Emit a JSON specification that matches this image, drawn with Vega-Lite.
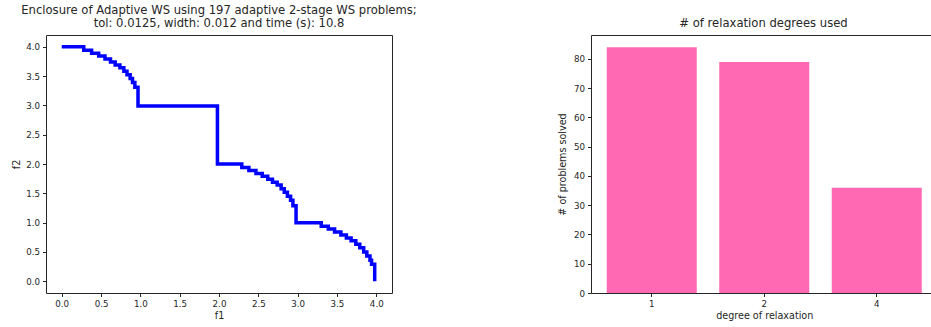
{
  "$schema": "https://vega.github.io/schema/vega-lite/v6.json",
  "padding": {"left": 11, "top": 4, "right": 0, "bottom": 0},
  "bounds": "flush",
  "spacing": 199,
  "config": {
    "font": "DejaVu Sans",
    "view": {"stroke": "#262626", "strokeWidth": 1},
    "axis": {
      "domain": false,
      "grid": false,
      "labelFont": "DejaVu Sans",
      "labelFontSize": 8.7,
      "labelColor": "#262626",
      "tickColor": "#262626",
      "tickSize": 3.5,
      "labelPadding": 3,
      "titleFont": "DejaVu Sans",
      "titleFontSize": 9.6,
      "titleFontWeight": "normal",
      "titleColor": "#262626"
    },
    "title": {
      "font": "DejaVu Sans",
      "fontSize": 11.6,
      "fontWeight": "normal",
      "color": "#262626",
      "offset": 5,
      "lineHeight": 13
    }
  },
  "datasets": {
    "enclosure": [
      {"f1": 0.0, "f2": 4.0},
      {"f1": 0.28, "f2": 3.94},
      {"f1": 0.38, "f2": 3.89},
      {"f1": 0.47, "f2": 3.84},
      {"f1": 0.55, "f2": 3.79},
      {"f1": 0.62, "f2": 3.74},
      {"f1": 0.68, "f2": 3.69},
      {"f1": 0.74, "f2": 3.64},
      {"f1": 0.79, "f2": 3.58},
      {"f1": 0.83, "f2": 3.52},
      {"f1": 0.87, "f2": 3.46},
      {"f1": 0.90, "f2": 3.39},
      {"f1": 0.93, "f2": 3.31},
      {"f1": 0.97, "f2": 2.99},
      {"f1": 1.98, "f2": 2.0},
      {"f1": 2.29, "f2": 1.94},
      {"f1": 2.38, "f2": 1.89},
      {"f1": 2.47, "f2": 1.84},
      {"f1": 2.55, "f2": 1.79},
      {"f1": 2.62, "f2": 1.74},
      {"f1": 2.68, "f2": 1.69},
      {"f1": 2.74, "f2": 1.64},
      {"f1": 2.79, "f2": 1.58},
      {"f1": 2.83, "f2": 1.52},
      {"f1": 2.87, "f2": 1.45},
      {"f1": 2.91, "f2": 1.38},
      {"f1": 2.94, "f2": 1.29},
      {"f1": 2.98, "f2": 1.0},
      {"f1": 3.30, "f2": 0.94},
      {"f1": 3.39, "f2": 0.89},
      {"f1": 3.47, "f2": 0.84},
      {"f1": 3.55, "f2": 0.79},
      {"f1": 3.62, "f2": 0.74},
      {"f1": 3.68, "f2": 0.69},
      {"f1": 3.74, "f2": 0.63},
      {"f1": 3.79, "f2": 0.57},
      {"f1": 3.84, "f2": 0.50},
      {"f1": 3.88, "f2": 0.43},
      {"f1": 3.92, "f2": 0.36},
      {"f1": 3.94, "f2": 0.29},
      {"f1": 3.98, "f2": 0.0}
    ],
    "degrees": [
      {"degree": "1", "count": 84},
      {"degree": "2", "count": 79},
      {"degree": "4", "count": 36}
    ]
  },
  "hconcat": [
    {
      "width": 346,
      "height": 258,
      "title": {"text": ["Enclosure of Adaptive WS using 197 adaptive 2-stage WS problems;", "tol: 0.0125, width: 0.012 and time (s): 10.8"]},
      "data": {"name": "enclosure"},
      "mark": {"type": "line", "interpolate": "step-after", "color": "#0000ff", "strokeWidth": 3.5, "clip": true},
      "encoding": {
        "x": {"field": "f1", "type": "quantitative", "sort": null,
              "scale": {"domain": [-0.2, 4.2], "nice": false, "zero": false},
              "axis": {"values": [0, 0.5, 1, 1.5, 2, 2.5, 3, 3.5, 4], "format": ".1f", "title": "f1", "titlePadding": 2}},
        "y": {"field": "f2", "type": "quantitative",
              "scale": {"domain": [-0.2, 4.2], "nice": false, "zero": false},
              "axis": {"values": [0, 0.5, 1, 1.5, 2, 2.5, 3, 3.5, 4], "format": ".1f", "title": "f2", "titlePadding": 4}}
      }
    },
    {
      "width": 345,
      "height": 258,
      "title": {"text": "# of relaxation degrees used"},
      "data": {"name": "degrees"},
      "mark": {"type": "bar", "color": "#ff69b4"},
      "encoding": {
        "x": {"field": "degree", "type": "nominal", "sort": null,
              "scale": {"range": [0, 346.5], "paddingInner": 0.2, "paddingOuter": 0.14},
              "axis": {"labelAngle": 0, "title": "degree of relaxation", "titlePadding": 2}},
        "y": {"field": "count", "type": "quantitative",
              "scale": {"domain": [0, 88.2], "nice": false},
              "axis": {"values": [0, 10, 20, 30, 40, 50, 60, 70, 80], "title": "# of problems solved", "titlePadding": 6}}
      }
    }
  ]
}
